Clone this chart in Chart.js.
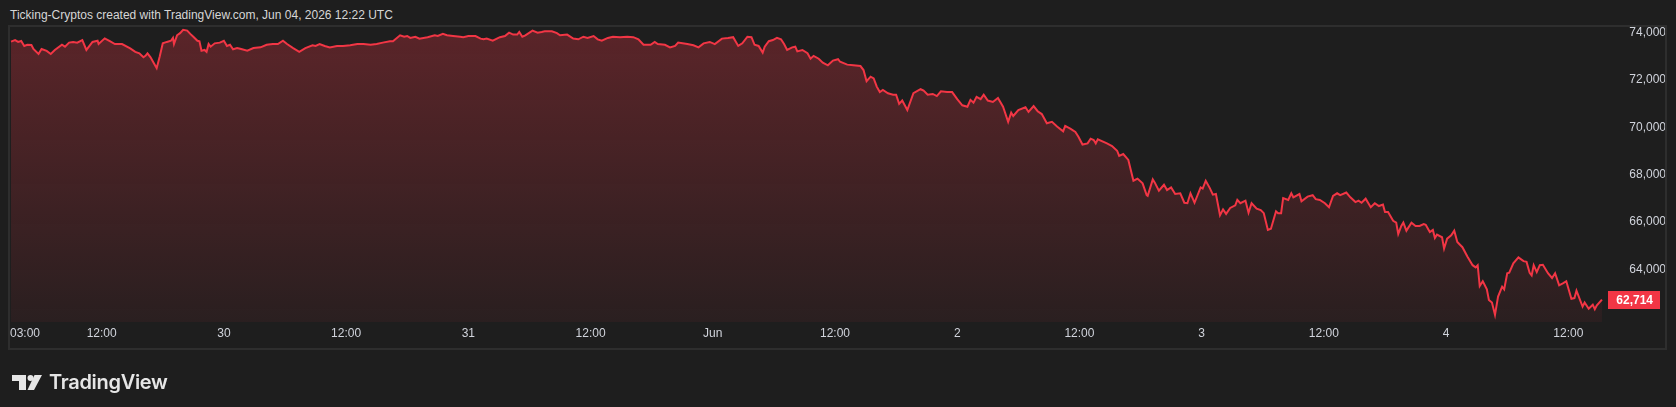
<!DOCTYPE html>
<html lang="en">
<head>
    <meta charset="UTF-8">
    <title>BTC price - TradingView snapshot</title>
    <script src="https://cdn.jsdelivr.net/npm/chart.js"></script>
    <style>
        html, body { margin: 0; padding: 0; background: #1e1e1e; }
        body { width: 1676px; height: 407px; position: relative; overflow: hidden; }
        #priceChart { position: absolute; left: 0; top: 0; }
        .title {
            position: absolute; left: 10px; top: 8px;
            font: 12px "Liberation Sans", Arial, sans-serif; color: #d6d6d6;
            white-space: nowrap;
        }
        .brand {
            position: absolute; left: 12px; top: 371px; height: 22px;
            display: flex; align-items: center; color: #e6e6e6;
            font: 600 20px Inter, "Noto Sans", sans-serif; letter-spacing: -0.3px;
        }
        .brand svg { margin-right: 7px; }
    </style>
</head>
<body>
    <div class="title">Ticking-Cryptos created with TradingView.com, Jun 04, 2026 12:22 UTC</div>
    <canvas id="priceChart" width="1676" height="407"></canvas>
    <div class="brand">
        <svg width="30" height="15" viewBox="0 0 30 15">
            <polygon points="0,0 14,0 14,15 7,15 7,6 0,6" fill="#e6e6e6"/>
            <circle cx="18.5" cy="3" r="3" fill="#e6e6e6"/>
            <polygon points="22.5,0 30,0 22,15 15.5,15" fill="#e6e6e6"/>
        </svg>
        <span>TradingView</span>
    </div>

    <script>
        // hours since May 29 00:00 (chart time)
        var times = [
            3.1, 3.5, 3.8, 4.1, 4.4, 4.7, 5.1, 5.3, 5.8, 6.1, 6.6, 7.0, 7.4, 8.1, 8.4, 8.8, 9.2, 9.6, 10.1, 10.5,
            11.1, 11.6, 11.7, 12.3, 12.8, 13.3, 14.0, 14.8, 15.3, 15.7, 16.1, 16.3, 16.5, 16.8, 17.1, 17.4, 17.7, 18.0, 18.4, 18.8,
            19.0, 19.1, 19.4, 19.7, 20.0, 20.4, 20.7, 21.0, 21.4, 21.6, 21.8, 22.1, 22.3, 22.5, 22.7, 23.1, 23.6, 24.0, 24.3, 24.6,
            24.9, 25.3, 25.6, 26.3, 26.9, 27.6, 28.2, 28.8, 29.3, 29.8, 30.2, 30.8, 31.4, 32.0, 32.7, 33.0, 33.4, 33.9, 34.4, 35.1,
            35.7, 36.4, 37.1, 37.7, 38.4, 39.0, 39.6, 40.3, 40.6, 41.3, 41.7, 42.0, 42.3, 42.8, 43.2,
            44.0, 44.7, 45.0, 45.5, 45.9, 46.5, 47.2, 47.5, 48.0, 48.7, 49.2, 49.5, 49.8, 50.4, 51.1, 51.6, 52.0, 52.4, 52.8, 53.0,
            53.3, 53.6, 54.3, 54.8, 55.2, 55.5, 56.2, 56.7, 57.0, 57.7, 58.3, 58.8, 59.3, 59.7, 60.3, 60.7, 61.1, 61.7, 62.2, 62.9,
            63.6, 64.2, 64.7, 65.2, 65.9, 66.3, 66.6, 67.3, 67.8, 68.3, 68.6, 69.5, 70.1, 70.6, 71.1, 71.7, 72.2, 72.9, 73.5, 74.0,
            74.5, 74.9, 75.4, 75.8, 76.1, 76.5, 76.9, 77.1, 77.5, 77.9, 78.3, 78.7, 79.0, 79.3, 79.8, 80.1, 80.3, 80.8, 81.3, 81.6,
            81.9, 82.4, 82.8, 83.3, 83.8, 84.3,
            84.5, 85.2, 85.8, 86.5, 86.8, 87.1, 87.5, 87.8, 88.1, 88.4, 88.7, 89.2, 89.7, 90.0, 90.3, 90.6, 91.1, 91.7, 92.4, 92.7,
            93.1, 93.6, 94.0, 94.4, 95.0, 95.5, 96.0, 96.5, 97.0, 97.3, 97.6, 97.9, 98.3, 98.6, 99.0, 99.5, 100.0, 100.5, 101.0, 101.3,
            101.5, 102.0, 102.7, 103.0, 103.5, 103.9, 104.3, 104.8, 105.3, 105.8, 106.4, 106.6, 107.1, 107.6, 107.9, 108.3, 108.8, 109.1, 109.4, 109.6,
            109.8, 110.7, 111.2, 111.7, 111.9, 112.3, 112.8, 113.3, 113.7, 114.2, 114.6, 114.7, 115.2, 115.4, 115.8, 116.3, 116.6, 117.0, 117.4, 117.9,
            118.3, 118.6, 118.9, 119.3, 119.9, 120.1, 120.4, 120.8, 121.1, 121.4, 121.8, 122.1, 122.4, 122.8, 123.3, 123.5,
            123.8, 124.3, 124.6, 124.9, 125.4, 125.8, 126.1, 126.5, 126.8, 127.3, 127.5, 127.8, 128.0, 128.5, 128.8, 129.0, 129.6, 129.8, 130.4, 130.9,
            131.2, 131.6, 132.1, 132.5, 132.9, 133.3, 133.6, 134.2, 134.6, 135.1, 135.4, 135.7, 136.1, 136.6, 137.0, 137.4, 137.8, 138.0, 138.3, 138.8,
            139.1, 139.3, 139.6, 139.8, 140.1, 140.6, 141.0, 141.4, 141.8, 142.0, 142.4, 142.7, 142.9, 143.1, 143.6, 143.8, 144.1, 144.5, 144.8, 145.1,
            145.6, 146.1, 146.6, 146.9, 147.1, 147.3, 147.6, 148.0, 148.2, 148.5, 148.8, 149.1, 149.5, 149.7, 150.0, 150.2, 150.6, 151.1, 151.6, 151.9,
            152.2, 152.4, 152.6, 152.9, 153.2, 153.5, 154.0, 154.4, 154.7, 155.1, 155.5, 155.8, 156.3, 156.6, 156.8, 157.4, 157.6, 158.0, 158.4, 158.6,
            158.8, 159.3
        ];

        var prices = [
            73620, 73690, 73610, 73650, 73440, 73490, 73480, 73310, 73100, 73310, 73230, 73100, 73270, 73490, 73410, 73580, 73610, 73580, 73690, 73270,
            73610, 73660, 73520, 73760, 73640, 73520, 73520, 73340, 73190, 73130, 72960, 73020, 73130, 72960, 72730, 72500, 72990, 73550, 73610, 73660,
            73780, 73520, 73890, 73980, 74120, 74090, 73950, 73830, 73660, 73640, 73240, 73270, 73190, 73520, 73410, 73550, 73580, 73660, 73440, 73490,
            73300, 73350, 73320, 73240, 73350, 73380, 73490, 73520, 73520, 73660, 73520, 73350, 73190, 73350, 73470, 73440, 73520, 73440, 73380, 73440,
            73440, 73470, 73520, 73520, 73490, 73520, 73580, 73640, 73640, 73890, 73830, 73860, 73780, 73830, 73750,
            73810, 73890, 73860, 73950, 73890, 73860, 73830, 73810, 73860, 73860, 73750, 73720, 73750, 73660, 73810, 73860, 74000, 73920, 73920, 74030,
            73830, 73890, 74090, 74000, 74030, 74060, 74060, 73980, 73890, 73920, 73750, 73720, 73830, 73780, 73860, 73720, 73660, 73780, 73830, 73810,
            73830, 73810, 73720, 73490, 73490, 73610, 73520, 73490, 73380, 73440, 73580, 73520, 73470, 73380, 73550, 73610, 73520, 73750, 73780, 73810,
            73440, 73550, 73830, 73810, 73490, 73440, 73160, 73410, 73640, 73690, 73780, 73720, 73520, 73270, 73380, 73410, 73210, 73270, 73130, 72900,
            73020, 72900, 72730, 72620, 72820, 72880,
            72770, 72650, 72620, 72590, 72420, 71950, 72140, 72070, 71720, 71490, 71580, 71440, 71380, 71380, 70990, 71130, 70730, 71440, 71610, 71550,
            71380, 71410, 71320, 71520, 71490, 71490, 71190, 70930, 70870, 71160, 71040, 71290, 71190, 71380, 71130, 71070, 71240, 70870, 70230, 70620,
            70480, 70730, 70850, 70650, 70900, 70680, 70560, 70170, 70230, 70030, 69830, 70060, 69940, 69800, 69600, 69270, 69320, 69520, 69460, 69320,
            69490, 69320, 69210, 69010, 68790, 68870, 68620, 67740, 67830, 67630, 67130, 67100, 67800, 67660, 67320, 67570, 67350, 67460, 67180, 67210,
            66810, 66790, 67210, 66810, 67460, 67410, 67740, 67430, 67150, 67180, 66280, 66530, 66340, 66590, 66700, 66930,
            66790, 66900, 66390, 66790, 66560, 66500, 66370, 65660, 65710, 66450, 66370, 66370, 67010, 66930, 67210, 67040, 67180, 66870, 67070, 67130,
            66960, 66930, 66790, 66620, 67100, 67210, 67130, 67240, 67040, 66840, 66900, 66810, 66980, 66620, 66790, 66670, 66730, 66420, 66420, 66050,
            65970, 65490, 65830, 65970, 65630, 65970, 65830, 65830, 65910, 65880, 65570, 65660, 65320, 65460, 65350, 64870, 65290, 65430, 65630, 65150,
            64930, 64530, 64170, 64080, 64170, 63290, 63490, 63150, 62700, 62590, 62070, 62840, 63260, 63150, 63830, 63850, 64250, 64500, 64340, 64310,
            63850, 63740, 64170, 63880, 64170, 64190, 63830, 63630, 63830, 63320, 63410, 63490, 62750, 62780, 63090, 62420, 62590, 62330, 62500, 62310,
            62470, 62714
        ];

        // time axis ticks (hours since May 29 00:00) and their labels
        var xTickHours = [3, 12, 24, 36, 48, 60, 72, 84, 96, 108, 120, 132, 144, 156];
        var xTickLabels = ['03:00', '12:00', '30', '12:00', '31', '12:00', 'Jun', '12:00', '2', '12:00', '3', '12:00', '4', '12:00'];
        var yTicks = [64000, 66000, 68000, 70000, 72000, 74000];

        var lastPrice = prices[prices.length - 1];
        var points = times.map(function (t, i) { return { x: t, y: prices[i] }; });

        var axisFont = { family: '"Liberation Sans", Arial, sans-serif', size: 12 };
        var axisColor = '#d1d4dc';

        // frame + last price tag
        var overlay = {
            id: 'overlay',
            afterDraw: function (chart) {
                var ctx = chart.ctx;
                var y = chart.scales.y;
                ctx.save();
                ctx.strokeStyle = '#2e2e2e';
                ctx.lineWidth = 2;
                ctx.strokeRect(9, 26, 1657, 323);

                var py = Math.round(y.getPixelForValue(lastPrice));
                ctx.fillStyle = '#f23645';
                ctx.fillRect(1608, py - 9, 52, 18);
                ctx.fillStyle = '#ffffff';
                ctx.font = 'bold 12px "Liberation Sans", Arial, sans-serif';
                ctx.textAlign = 'right';
                ctx.textBaseline = 'middle';
                ctx.fillText(lastPrice.toLocaleString('en-US'), 1653, py + 0.5);
                ctx.restore();
            }
        };

        var ctx = document.getElementById('priceChart').getContext('2d');
        var chart = new Chart(ctx, {
            type: 'line',
            data: {
                datasets: [{
                    data: points,
                    borderColor: '#f23645',
                    borderWidth: 2,
                    pointRadius: 0,
                    tension: 0,
                    fill: 'start',
                    backgroundColor: function (c) {
                        var a = c.chart.chartArea;
                        if (!a) return 'rgba(242,54,69,0.2)';
                        var g = c.chart.ctx.createLinearGradient(0, a.top, 0, a.bottom);
                        g.addColorStop(0, 'rgba(242,54,69,0.29)');
                        g.addColorStop(1, 'rgba(242,54,69,0.06)');
                        return g;
                    }
                }]
            },
            options: {
                responsive: false,
                animation: false,
                events: [],
                layout: { padding: { left: 10, top: 27, right: 10, bottom: 57 } },
                plugins: { legend: { display: false }, tooltip: { enabled: false } },
                scales: {
                    x: {
                        type: 'linear',
                        min: 3,
                        max: 159.6,
                        grid: { display: false, drawTicks: false },
                        border: { display: false },
                        afterBuildTicks: function (s) {
                            s.ticks = xTickHours.map(function (v) { return { value: v }; });
                            s.ticks.push({ value: 159.6 });
                        },
                        afterFit: function (s) { s.height = 28; },
                        ticks: {
                            autoSkip: false,
                            maxRotation: 0,
                            align: 'inner',
                            padding: 4,
                            color: axisColor,
                            font: axisFont,
                            callback: function (v, i) { return xTickLabels[i] || ''; }
                        }
                    },
                    y: {
                        position: 'right',
                        min: 61768,
                        max: 74241,
                        grid: { display: false, drawTicks: false },
                        border: { display: false },
                        afterBuildTicks: function (s) {
                            s.ticks = yTicks.map(function (v) { return { value: v }; });
                        },
                        afterFit: function (s) { s.width = 61; },
                        ticks: {
                            crossAlign: 'far',
                            padding: 12,
                            color: axisColor,
                            font: axisFont,
                            callback: function (v) { return v.toLocaleString('en-US'); }
                        }
                    }
                }
            },
            plugins: [overlay]
        });
    </script>
</body>
</html>
